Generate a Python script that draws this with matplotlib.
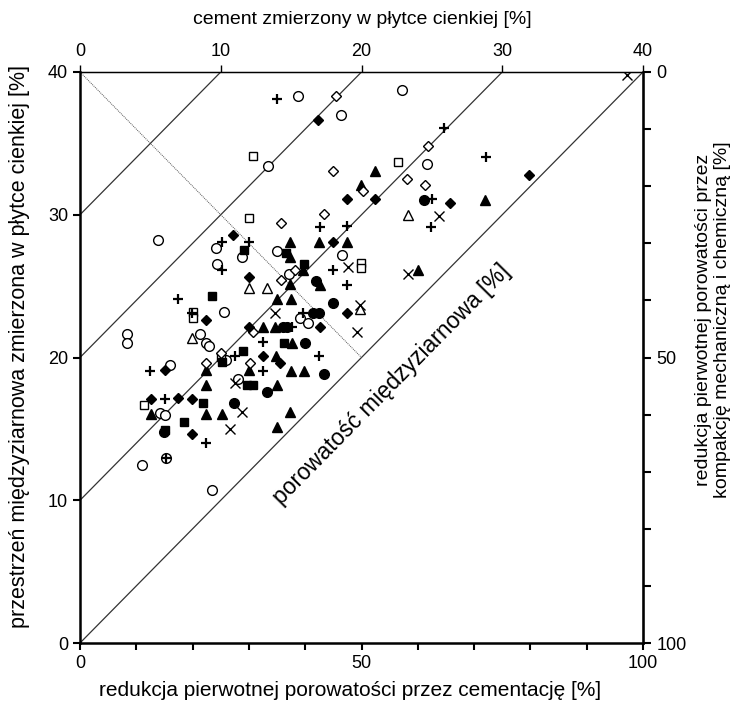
import numpy as np
import matplotlib
matplotlib.use("Agg")
import matplotlib.pyplot as plt

plt.rcParams['font.family'] = ['Liberation Sans', 'DejaVu Sans']

# cement reduction [%] (x) vs intergranular volume [%] (y), grouped by symbol
open_circle_x = [13.91, 24.16, 28.83, 24.28, 33.39, 25.63, 34.94, 37.12, 8.29, 8.29,
                 21.31, 22.38, 23.00, 25.93, 15.99, 28.12, 14.21, 15.10, 15.28, 10.96,
                 23.50, 38.67, 57.25, 46.31, 61.58, 46.59, 39.08, 40.55]
open_circle_y = [28.21, 27.65, 27.06, 26.58, 33.39, 23.21, 27.46, 25.85, 21.63, 21.04,
                 21.63, 21.02, 20.84, 19.82, 19.47, 18.46, 16.13, 15.97, 12.98, 12.47,
                 10.72, 38.30, 38.72, 37.01, 33.58, 27.17, 22.80, 22.40]

filled_circle_x = [41.83, 44.94, 41.44, 42.45, 36.11, 36.77, 39.96, 43.29, 33.21, 27.39,
                   14.92, 61.15]
filled_circle_y = [25.36, 23.82, 23.15, 23.15, 22.16, 22.16, 21.02, 18.83, 17.60, 16.81,
                   14.80, 31.01]

open_square_x = [30.78, 30.02, 20.12, 20.12, 11.42, 25.04, 56.43, 49.86, 49.86]
open_square_y = [34.09, 29.75, 23.21, 22.75, 16.67, 20.06, 33.69, 26.60, 26.27]

filled_square_x = [29.13, 36.59, 23.50, 39.79, 28.95, 25.17, 29.66, 30.73, 21.85, 18.51,
                   15.10, 36.23]
filled_square_y = [27.53, 27.32, 24.31, 26.55, 20.48, 19.68, 18.07, 18.07, 16.81, 15.48,
                   14.92, 21.05]

open_tri_x = [30.02, 33.16, 19.89, 58.31, 49.82]
open_tri_y = [24.87, 24.87, 21.37, 30.00, 23.40]

filled_tri_x = [52.40, 49.86, 37.30, 42.50, 47.48, 37.30, 39.66, 59.98, 37.30, 42.63,
                34.94, 37.42, 34.64, 37.60, 34.90, 37.39, 39.73, 34.94, 37.35, 34.94,
                22.34, 30.02, 22.34, 12.56, 22.34, 25.17, 32.45, 71.99]
filled_tri_y = [33.06, 32.06, 28.09, 28.09, 28.09, 27.04, 26.11, 26.11, 25.13, 25.08,
                24.08, 24.08, 22.14, 20.99, 20.14, 19.05, 19.05, 18.07, 16.15, 15.11,
                19.12, 19.09, 18.07, 16.04, 16.06, 16.06, 22.12, 31.05]

open_dia_x = [45.47, 61.86, 44.99, 58.03, 61.28, 50.21, 43.39, 35.70, 35.70, 38.19,
              25.10, 22.34, 30.20, 30.78]
open_dia_y = [38.32, 34.82, 33.06, 32.48, 32.06, 31.64, 30.07, 29.44, 25.41, 26.11,
              20.29, 19.59, 19.64, 21.81]

filled_dia_x = [27.23, 30.02, 22.38, 42.33, 47.37, 52.40, 65.72, 44.94, 47.48, 42.58,
                30.02, 32.45, 35.52, 15.10, 12.56, 17.46, 19.84, 19.98, 79.75]
filled_dia_y = [28.58, 25.66, 22.61, 36.62, 31.08, 31.08, 30.84, 28.09, 23.12, 22.14,
                22.12, 20.10, 19.59, 19.09, 17.07, 17.13, 17.07, 14.64, 32.76]

plus_x = [25.17, 30.07, 25.17, 17.46, 19.95, 12.43, 32.45, 27.53, 32.45, 15.10,
          22.38, 15.28, 34.94, 64.71, 62.47, 62.34, 42.58, 47.42, 44.88, 47.42,
          39.66, 37.60, 42.50, 72.11]
plus_y = [28.11, 28.11, 26.13, 24.10, 23.14, 19.07, 21.09, 20.10, 19.07, 17.07,
          14.03, 12.98, 38.09, 36.08, 31.08, 29.14, 29.16, 29.19, 26.12, 25.10,
          23.15, 22.12, 20.10, 34.05]

cross_x = [97.10, 63.77, 58.21, 47.66, 49.73, 49.15, 34.64, 27.53, 28.86, 26.70]
cross_y = [39.77, 29.91, 25.87, 26.32, 23.68, 21.81, 23.10, 18.19, 16.18, 14.98]

# lines of equal intergranular porosity
igv_levels = [0, 10, 20, 30]

fig = plt.figure(figsize=(7.39, 7.06), dpi=100)
ax = fig.add_axes([80 / 739, 63 / 706, 563 / 739, 571 / 706])
ax.set_xlim(0, 100)
ax.set_ylim(0, 40)

for c in igv_levels:
    xs = np.array([0, (40 - c) / 0.4])
    ax.plot(xs, c + 0.4 * xs, color='#333333', lw=0.9, zorder=1)
ax.plot([0, 50], [40, 20], color='#555555', lw=0.7, ls=(0, (1, 1)), zorder=1)

ms = 7.0
ax.plot(open_circle_x, open_circle_y, 'o', ms=ms, mfc='white', mec='black', mew=1.0, ls='none', zorder=3)
ax.plot(filled_circle_x, filled_circle_y, 'o', ms=ms, mfc='black', mec='black', ls='none', zorder=3)
ax.plot(open_square_x, open_square_y, 's', ms=6.4, mfc='white', mec='black', mew=1.0, ls='none', zorder=3)
ax.plot(filled_square_x, filled_square_y, 's', ms=6.4, mfc='black', mec='black', ls='none', zorder=3)
ax.plot(open_tri_x, open_tri_y, '^', ms=7.5, mfc='white', mec='black', mew=1.0, ls='none', zorder=3)
ax.plot(filled_tri_x, filled_tri_y, '^', ms=7.5, mfc='black', mec='black', ls='none', zorder=3)
ax.plot(open_dia_x, open_dia_y, 'D', ms=5.2, mfc='white', mec='black', mew=1.0, ls='none', zorder=3)
ax.plot(filled_dia_x, filled_dia_y, 'D', ms=5.2, mfc='black', mec='black', ls='none', zorder=3)
ax.plot(plus_x, plus_y, '+', ms=7.5, mec='black', mew=1.6, ls='none', zorder=3)
ax.plot(cross_x, cross_y, 'x', ms=7.0, mec='black', mew=1.0, ls='none', zorder=3)

ax.text(55.3, 18.1, 'porowatość międzyziarnowa [%]', rotation=45.4, fontsize=16.5,
        ha='center', va='center', rotation_mode='anchor')

# axes styling
for side in ax.spines.values():
    side.set_linewidth(1.0)
ax.spines['left'].set_linewidth(1.8)
ax.spines['bottom'].set_linewidth(1.8)

ax.set_xticks([0, 50, 100])
ax.set_xticks(np.arange(0, 101, 10), minor=True)
ax.set_yticks([0, 10, 20, 30, 40])
ax.tick_params(axis='both', which='both', direction='out', length=5, width=1.5, labelsize=13)
ax.tick_params(axis='x', which='minor', length=5, width=1.5)

top = ax.secondary_xaxis('top', functions=(lambda v: v * 0.4, lambda v: v / 0.4))
top.set_xticks([0, 10, 20, 30, 40])
top.tick_params(direction='out', length=5, width=1.0, labelsize=13)

right = ax.secondary_yaxis('right', functions=(lambda v: 100 - v * 2.5, lambda v: (100 - v) / 2.5))
right.set_yticks([0, 50, 100])
right.set_yticks(np.arange(0, 101, 10), minor=True)
right.tick_params(which='both', direction='out', length=6, width=1.5, labelsize=13)
right.spines['right'].set_linewidth(1.8)

fig.text(350 / 739, 1 - 690 / 706, 'redukcja pierwotnej porowatości przez cementację [%]',
         fontsize=15, ha='center', va='center')
fig.text(362 / 739, 1 - 20 / 706, 'cement zmierzony w płytce cienkiej [%]',
         fontsize=14, ha='center', va='center')
fig.text(20 / 739, 1 - 347 / 706, 'przestrzeń międzyziarnowa zmierzona w płytce cienkiej [%]',
         fontsize=15.5, rotation=90, ha='center', va='center')
fig.text(713 / 739, 1 - 320 / 706,
         'redukcja pierwotnej porowatości przez\nkompakcję mechaniczną i chemiczną [%]',
         fontsize=14, rotation=90, ha='center', va='center', linespacing=1.1)

fig.savefig('out.png', dpi=100)
